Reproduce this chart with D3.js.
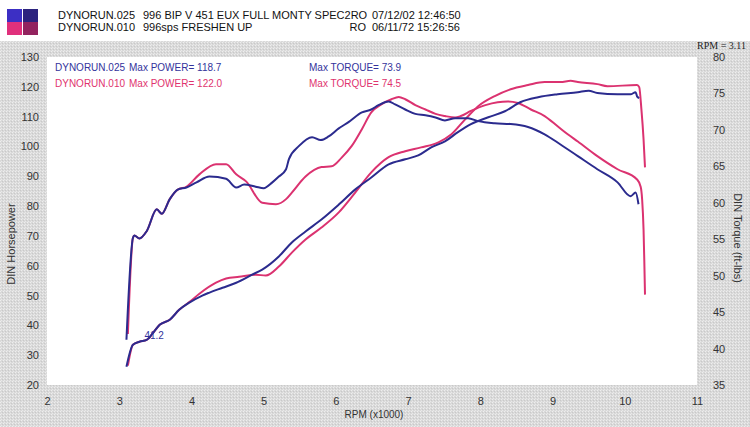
<!DOCTYPE html>
<html>
<head>
<meta charset="utf-8">
<script src="https://cdn.jsdelivr.net/npm/d3@7"></script>
<style>
  body { margin: 0; background: #fff; }
  svg { display: block; font-family: Arial, "Liberation Sans", sans-serif; }
</style>
</head>
<body>
<div class="dyno"></div>
<script>
// Dyno sheet data (rpm in x1000)
var torqueBlueRpm = [3.10, 3.19, 3.21, 3.28, 3.38, 3.52, 3.59, 3.70, 3.81, 3.93, 4.07, 4.25, 4.48, 4.62, 4.73, 4.89, 5.00, 5.12, 5.21, 5.31, 5.35, 5.49, 5.67, 5.79, 5.90, 6.04, 6.18, 6.36, 6.49, 6.59, 6.73, 6.82, 6.96, 7.10, 7.24, 7.38, 7.51, 7.65, 7.83, 7.97, 8.20, 8.42, 8.66, 8.89, 9.11, 9.35, 9.62, 9.90, 10.08, 10.15, 10.19];
var torqueBlue = [41.2, 55.2, 55.5, 55.1, 56.1, 59.1, 58.5, 60.5, 61.8, 62.1, 62.8, 63.6, 63.3, 62.1, 62.5, 62.2, 62.0, 62.8, 63.6, 64.6, 66.0, 67.8, 69.0, 68.6, 69.1, 70.2, 71.1, 72.4, 72.8, 73.4, 73.9, 73.5, 72.8, 72.2, 72.0, 71.7, 71.3, 71.6, 71.6, 71.2, 70.9, 70.8, 70.4, 69.4, 68.0, 66.4, 64.6, 62.8, 60.9, 61.4, 59.8];

var torquePinkRpm = [3.12, 3.19, 3.21, 3.28, 3.38, 3.52, 3.59, 3.70, 3.81, 3.93, 4.11, 4.34, 4.48, 4.62, 4.76, 4.98, 5.17, 5.31, 5.39, 5.58, 5.80, 5.94, 6.08, 6.22, 6.36, 6.49, 6.63, 6.77, 6.87, 6.96, 7.10, 7.24, 7.38, 7.51, 7.65, 7.73, 7.87, 8.07, 8.24, 8.38, 8.52, 8.70, 8.89, 9.07, 9.21, 9.35, 9.62, 9.90, 10.17, 10.22, 10.24, 10.26, 10.27, 10.28];
var torquePink = [42.0, 55.2, 55.5, 55.1, 56.1, 59.1, 58.5, 60.5, 61.8, 62.2, 63.9, 65.3, 65.3, 63.9, 62.9, 60.0, 59.8, 60.5, 61.4, 63.6, 64.9, 65.0, 66.2, 67.8, 70.1, 72.4, 73.5, 74.2, 74.5, 74.2, 73.4, 72.8, 72.2, 71.9, 71.7, 71.9, 72.6, 73.4, 73.8, 73.9, 73.7, 72.8, 71.9, 70.5, 69.4, 68.4, 66.4, 64.6, 63.2, 62.2, 60.5, 56.3, 52.2, 47.4];

var powerBlueRpm = [3.10, 3.19, 3.28, 3.38, 3.46, 3.56, 3.70, 3.83, 3.97, 4.15, 4.25, 4.43, 4.62, 4.84, 4.98, 5.21, 5.39, 5.58, 5.80, 6.04, 6.27, 6.49, 6.73, 6.96, 7.14, 7.32, 7.51, 7.69, 7.87, 8.11, 8.34, 8.56, 8.80, 9.07, 9.35, 9.50, 9.62, 9.90, 10.08, 10.15, 10.17, 10.20];
var powerBlue = [26.1, 33.5, 34.5, 35.1, 37.2, 40.2, 41.9, 45.2, 47.6, 50.0, 51.0, 52.6, 54.3, 57.0, 58.7, 63.1, 67.8, 71.5, 75.5, 80.5, 85.6, 89.6, 94.0, 95.7, 97.0, 99.7, 101.7, 104.8, 107.5, 109.8, 111.8, 114.9, 116.5, 117.5, 118.2, 118.7, 117.9, 117.5, 117.5, 118.2, 116.8, 116.2];

var powerPinkRpm = [3.12, 3.19, 3.28, 3.38, 3.46, 3.56, 3.70, 3.83, 3.97, 4.11, 4.34, 4.48, 4.66, 4.89, 5.03, 5.21, 5.39, 5.58, 5.80, 6.04, 6.27, 6.49, 6.73, 6.96, 7.18, 7.42, 7.60, 7.79, 7.97, 8.20, 8.42, 8.66, 8.89, 9.11, 9.25, 9.35, 9.62, 9.76, 10.17, 10.20, 10.23, 10.26, 10.28];
var powerPink = [26.5, 33.5, 34.5, 35.1, 37.2, 40.2, 41.9, 45.2, 47.8, 50.6, 54.3, 55.7, 56.3, 57.0, 56.7, 59.7, 64.4, 68.8, 72.8, 77.9, 84.6, 91.3, 96.4, 98.4, 99.7, 101.4, 104.1, 109.1, 113.5, 116.9, 119.2, 120.6, 121.6, 121.6, 122.0, 121.6, 120.9, 120.2, 120.6, 119.9, 112.5, 102.4, 93.0];

var rpmTicks = [2, 3, 4, 5, 6, 7, 8, 9, 10, 11];
var hpTicks = [20, 30, 40, 50, 60, 70, 80, 90, 100, 110, 120, 130];
var torqueTicks = [35, 40, 45, 50, 55, 60, 65, 70, 75, 80];

var w = 750;
var h = 427;
var margin = ({top: 57, right: 50, bottom: 42, left: 47});

var blue = "#2b2b8e";
var pink = "#db3270";
var blueText = "#33339c";
var pinkText = "#e0336e";

var svg = d3.select(".dyno")
    .append("svg")
    .attr("width", w)
    .attr("height", h);

// dithered grey paper texture
var pat = svg.append("defs").append("pattern")
    .attr("id", "paper")
    .attr("width", 3).attr("height", 3)
    .attr("patternUnits", "userSpaceOnUse");
pat.append("rect").attr("width", 3).attr("height", 3).attr("fill", "#d9d9d9");
pat.append("rect").attr("x", 0).attr("y", 0).attr("width", 1).attr("height", 1).attr("fill", "#eeeeee");
pat.append("rect").attr("x", 2).attr("y", 1).attr("width", 1).attr("height", 1).attr("fill", "#c9c9c9");
pat.append("rect").attr("x", 1).attr("y", 2).attr("width", 1).attr("height", 1).attr("fill", "#e8e8e8");

svg.append("rect").attr("x", 0).attr("y", 41).attr("width", w).attr("height", h - 41).attr("fill", "url(#paper)");

// Scales
var x = d3.scaleLinear().domain([2, 11]).range([margin.left, w - margin.right - 3]);
var yHp = d3.scaleLinear().domain([20, 130]).range([h - margin.bottom, margin.top]);
var yTq = d3.scaleLinear().domain([35, 80]).range([h - margin.bottom, margin.top]);

// white plot area
svg.append("rect")
    .attr("x", x(2)).attr("y", yHp(130))
    .attr("width", x(11) - x(2)).attr("height", yHp(20) - yHp(130))
    .attr("fill", "#fff");

// header swatches
var swatches = [
    {c: "#3c2fc4", cx: 0, cy: 0}, {c: "#2c237e", cx: 1, cy: 0},
    {c: "#e0307c", cx: 0, cy: 1}, {c: "#93235f", cx: 1, cy: 1}
];
svg.selectAll("rect.swatch")
    .data(swatches)
    .enter()
    .append("rect")
    .attr("class", "swatch")
    .attr("x", function(d) { return 7 + d.cx * 16; })
    .attr("y", function(d) { return 9 + d.cy * 13; })
    .attr("width", 15)
    .attr("height", 13)
    .attr("fill", function(d) { return d.c; });

var header = svg.append("g").style("font-size", "11px").attr("fill", "#111");
header.append("text").attr("x", 58).attr("y", 19).text("DYNORUN.025");
header.append("text").attr("x", 143).attr("y", 19).text("996 BIP V 451 EUX FULL MONTY SPEC2RO");
header.append("text").attr("x", 372).attr("y", 19).text("07/12/02 12:46:50");
header.append("text").attr("x", 58).attr("y", 31).text("DYNORUN.010");
header.append("text").attr("x", 143).attr("y", 31).text("996sps FRESHEN UP");
header.append("text").attr("x", 366).attr("y", 31).attr("text-anchor", "end").text("RO");
header.append("text").attr("x", 372).attr("y", 31).text("06/11/72 15:26:56");

svg.append("text")
    .attr("x", 746).attr("y", 49)
    .attr("text-anchor", "end")
    .style("font-family", "'Liberation Serif', 'Times New Roman', serif")
    .style("font-size", "10px")
    .attr("fill", "#222")
    .text("RPM = 3.11");

// Axes (ticks and domain hidden, labels only)
var xAxis = d3.axisBottom(x).tickValues(rpmTicks).tickSize(0).tickPadding(12);
var hpAxis = d3.axisLeft(yHp).tickValues(hpTicks).tickSize(0).tickPadding(8);
var tqAxis = d3.axisRight(yTq).tickValues(torqueTicks).tickSize(0).tickPadding(16);

function styleAxis(g) {
    g.select(".domain").remove();
    g.selectAll("text").style("font-size", "11px").style("font-family", "Arial, 'Liberation Sans', sans-serif").attr("fill", "#333");
}

svg.append("g")
    .attr("transform", "translate(0," + (h - margin.bottom) + ")")
    .call(xAxis).call(styleAxis);
svg.append("g")
    .attr("transform", "translate(" + x(2) + ",0)")
    .call(hpAxis).call(styleAxis);
svg.append("g")
    .attr("transform", "translate(" + x(11) + ",0)")
    .call(tqAxis).call(styleAxis);

// Axis titles
svg.append("text")
    .attr("x", 374).attr("y", 418)
    .attr("text-anchor", "middle")
    .style("font-size", "10px").attr("fill", "#333")
    .text("RPM (x1000)");
svg.append("text")
    .attr("transform", "translate(15,244) rotate(-90)")
    .attr("text-anchor", "middle")
    .style("font-size", "11px").attr("fill", "#333")
    .text("DIN Horsepower");
svg.append("text")
    .attr("transform", "translate(734,238) rotate(90)")
    .attr("text-anchor", "middle")
    .style("font-size", "11px").attr("fill", "#333")
    .text("DIN Torque (ft-lbs)");

// Curves
var hpLine = d3.line()
    .x(function(d) { return x(d[0]); })
    .y(function(d) { return yHp(d[1]); })
    .curve(d3.curveMonotoneX);
var tqLine = d3.line()
    .x(function(d) { return x(d[0]); })
    .y(function(d) { return yTq(d[1]); })
    .curve(d3.curveMonotoneX);

var curves = [
    {rpm: torquePinkRpm, v: torquePink, line: tqLine, c: pink},
    {rpm: powerPinkRpm, v: powerPink, line: hpLine, c: pink},
    {rpm: torqueBlueRpm, v: torqueBlue, line: tqLine, c: blue},
    {rpm: powerBlueRpm, v: powerBlue, line: hpLine, c: blue}
];
curves.forEach(function(s) {
    svg.append("path")
        .datum(d3.zip(s.rpm, s.v))
        .attr("d", s.line)
        .attr("fill", "none")
        .attr("stroke", s.c)
        .attr("stroke-width", 2)
        .attr("stroke-linejoin", "round");
});

// starting torque label
svg.append("text")
    .attr("x", x(torqueBlueRpm[0]) + 18).attr("y", yTq(torqueBlue[0]) - 1)
    .style("font-size", "10px").attr("fill", blueText)
    .text(torqueBlue[0].toFixed(1));

// In-plot legend
var legend = [
    {run: "DYNORUN.025", hp: d3.max(powerBlue), tq: d3.max(torqueBlue), c: blueText},
    {run: "DYNORUN.010", hp: d3.max(powerPink), tq: d3.max(torquePink), c: pinkText}
];
var lg = svg.selectAll("g.legend")
    .data(legend)
    .enter()
    .append("g")
    .attr("class", "legend")
    .attr("transform", function(d, i) { return "translate(0," + (71 + i * 16) + ")"; })
    .style("font-size", "10px")
    .attr("fill", function(d) { return d.c; });
lg.append("text").attr("x", 55).text(function(d) { return d.run; });
lg.append("text").attr("x", 129).text(function(d) { return "Max POWER= " + d.hp.toFixed(1); });
lg.append("text").attr("x", 309).text(function(d) { return "Max TORQUE= " + d.tq.toFixed(1); });
</script>
</body>
</html>
